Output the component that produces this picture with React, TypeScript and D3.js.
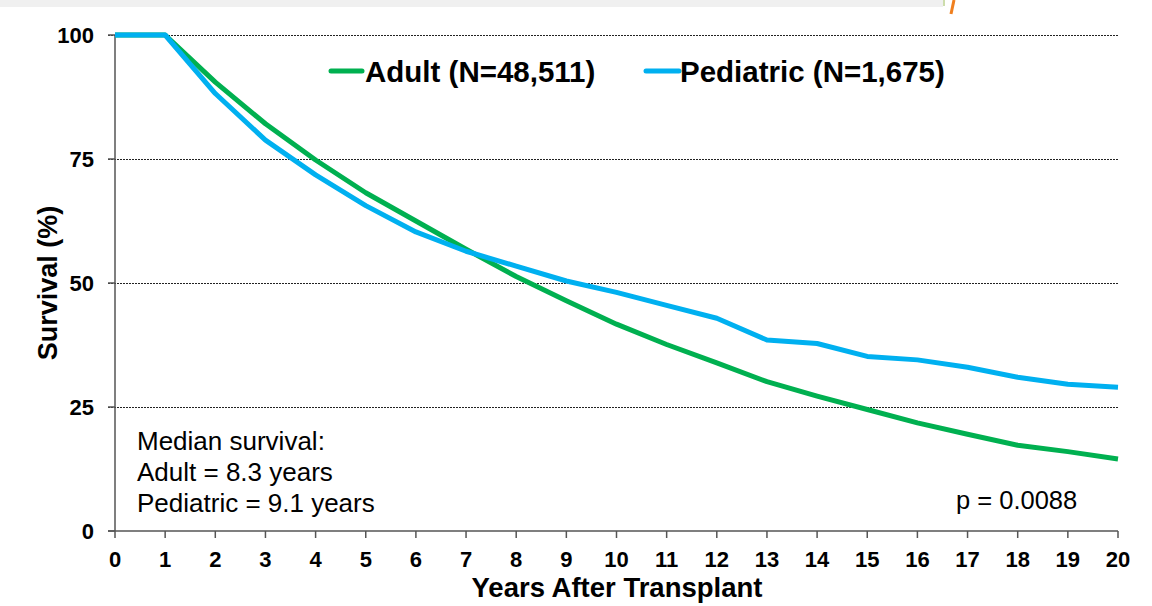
import React from "react";
import * as d3 from "d3";

const years = [0, 1, 2, 3, 4, 5, 6, 7, 8, 9, 10, 11, 12, 13, 14, 15, 16, 17, 18, 19, 20];
const adult = [100, 100, 90.5, 82.1, 74.8, 68.2, 62.5, 56.8, 51.3, 46.4, 41.7, 37.6, 33.9, 30.1, 27.2, 24.5, 21.8, 19.5, 17.3, 16.0, 14.5];
const pediatric = [100, 100, 88.2, 78.8, 71.8, 65.6, 60.3, 56.4, 53.4, 50.4, 48.1, 45.5, 42.9, 38.5, 37.8, 35.2, 34.5, 33.0, 31.0, 29.6, 29.0];
const yTicks = [0, 25, 50, 75, 100];
const gridTicks = [25, 50, 75, 100];
const seriesNames = ["Adult (N=48,511)", "Pediatric (N=1,675)"];
const seriesColors = ["#00B050", "#00B0F0"];
const annotationLines = ["Median survival:", "Adult = 8.3 years", "Pediatric = 9.1 years"];
const pValueText = "p = 0.0088";

export default function App() {
  const W = 1152, H = 606;
  const x = d3.scaleLinear().domain([0, 20]).range([115, 1118]);
  const y = d3.scaleLinear().domain([0, 100]).range([531, 35]);
  const line = d3.line<number>().x((_, i) => x(years[i])).y((d) => y(d));
  const font = "'Liberation Sans', Arial, sans-serif";
  const axisColor = "#555";

  return (
    <svg width={W} height={H} style={{ position: "absolute", left: 0, top: 0, background: "#fff" }} fontFamily={font}>
      <rect x={0} y={0} width={943} height={7} fill="#f0f0f0" />
      <line x1={944} y1={0} x2={944} y2={6} stroke="#9bbb59" strokeWidth={1} />
      <line x1={954} y1={0} x2={951} y2={14} stroke="#f07f1e" strokeWidth={3} />

      {gridTicks.map((t) => (
        <line key={"g" + t} x1={108} x2={1118} y1={y(t) + 0.5} y2={y(t) + 0.5} stroke="#222" strokeWidth={1} strokeDasharray="2,1" />
      ))}

      {/* y axis */}
      <line x1={x(0)} x2={x(0)} y1={y(100)} y2={y(0)} stroke={axisColor} strokeWidth={1.5} />
      {yTicks.map((t) => (
        <g key={"y" + t}>
          <line x1={108} x2={x(0)} y1={y(t)} y2={y(t)} stroke={axisColor} strokeWidth={1.5} />
          <text x={94} y={y(t) + 8} textAnchor="end" fontSize={22} fontWeight="bold" fill="#000">{t}</text>
        </g>
      ))}

      {/* x axis */}
      <line x1={108} x2={x(20)} y1={y(0)} y2={y(0)} stroke={axisColor} strokeWidth={1.5} />
      {years.map((t) => (
        <g key={"x" + t}>
          <line x1={x(t)} x2={x(t)} y1={y(0)} y2={y(0) + 7} stroke={axisColor} strokeWidth={1.5} />
          <text x={x(t)} y={567} textAnchor="middle" fontSize={22} fontWeight="bold" fill="#000">{t}</text>
        </g>
      ))}

      <text x={617} y={597} textAnchor="middle" fontSize={27.5} fontWeight="bold" fill="#000">Years After Transplant</text>
      <text transform="translate(57,283) rotate(-90)" textAnchor="middle" fontSize={27} fontWeight="bold" fill="#000">Survival (%)</text>

      <path d={line(adult) || ""} fill="none" stroke={seriesColors[0]} strokeWidth={5} strokeLinejoin="round" />
      <path d={line(pediatric) || ""} fill="none" stroke={seriesColors[1]} strokeWidth={5} strokeLinejoin="round" />

      {/* legend */}
      <line x1={331} x2={362} y1={71} y2={71} stroke={seriesColors[0]} strokeWidth={5} strokeLinecap="round" />
      <text x={365} y={82} fontSize={29.5} fontWeight="bold" fill="#000">{seriesNames[0]}</text>
      <line x1={646} x2={679} y1={71} y2={71} stroke={seriesColors[1]} strokeWidth={5} strokeLinecap="round" />
      <text x={680} y={82} fontSize={29.5} fontWeight="bold" fill="#000">{seriesNames[1]}</text>

      {annotationLines.map((s, i) => (
        <text key={s} x={137} y={450 + i * 31} fontSize={26} fill="#000">{s}</text>
      ))}
      <text x={956} y={509} fontSize={25.5} fill="#000">{pValueText}</text>
    </svg>
  );
}
